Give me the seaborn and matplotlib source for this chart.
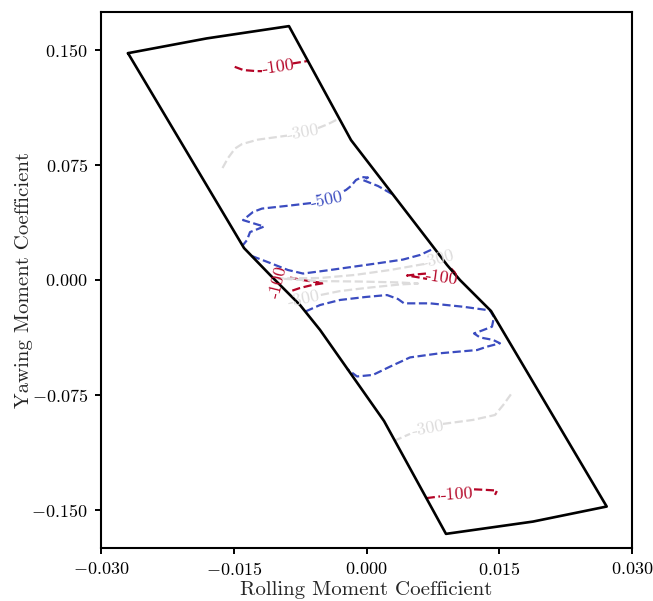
import numpy as np
import pandas as pd
import matplotlib
matplotlib.use("Agg")
import matplotlib.pyplot as plt
import seaborn as sns
from matplotlib.ticker import FuncFormatter

# ---------------- data ----------------
# flight envelope boundary (rolling, yawing moment coefficient)
boundary_x = [-0.02695, -0.01806, -0.00876, -0.00175, 0.00695, 0.00910, 0.01056, 0.01407,
              0.02714, 0.01881, 0.00898, 0.00198, -0.00525, -0.00751, -0.01090, -0.01384, -0.02695]
boundary_y = [0.1477, 0.1573, 0.1653, 0.0911, 0.0260, 0.0098, 0.0000, -0.0202,
              -0.1475, -0.1573, -0.1653, -0.0918, -0.0325, -0.0163, 0.0033, 0.0208, 0.1477]

contour_levels = [-500, -300, -100]

# contour paths: (level, x values, y values)
c100_top_a_x = [-0.01489, -0.01392, -0.01241, -0.01181]
c100_top_a_y = [0.1388, 0.1367, 0.1360, 0.1360]
c100_top_b_x = [-0.00834, -0.00653]
c100_top_b_y = [0.1410, 0.1427]

c300_top_a_x = [-0.01627, -0.01565, -0.01486, -0.01407, -0.01226, -0.00898]
c300_top_a_y = [0.0729, 0.0794, 0.0856, 0.0885, 0.0914, 0.0940]
c300_top_b_x = [-0.00548, -0.00435, -0.00311]
c300_top_b_y = [0.0989, 0.1015, 0.1051]

c500_up_a_x = [0.00288, 0.00130, -0.00040, 0.00017, -0.00051, -0.00119, -0.00175, -0.00232, -0.00277]
c500_up_a_y = [0.0560, 0.0612, 0.0651, 0.0667, 0.0670, 0.0651, 0.0612, 0.0586, 0.0573]
c500_up_b_x = [-0.00627, -0.00864, -0.01181, -0.01282, -0.01395, -0.01158, -0.01316, -0.01350, -0.01395]
c500_up_b_y = [0.0501, 0.0485, 0.0465, 0.0443, 0.0390, 0.0348, 0.0312, 0.0260, 0.0228]
c500_up_c_x = [-0.01295, -0.01090, -0.00887, -0.00717, -0.00412, -0.00130, 0.00153, 0.00412, 0.00605, 0.00751]
c500_up_c_y = [0.0156, 0.0111, 0.0065, 0.0042, 0.0065, 0.0088, 0.0111, 0.0133, 0.0163, 0.0202]

c100_midl_x = [-0.00864, -0.00751, -0.00616, -0.00480, -0.00616, -0.00751, -0.00853]
c100_midl_y = [0.0016, 0.0003, -0.0010, -0.0020, -0.0033, -0.0052, -0.0072]

c100_midr_a_x = [0.00672, 0.00559, 0.00458, 0.00559, 0.00684]
c100_midr_a_y = [0.0042, 0.0036, 0.0029, 0.0020, 0.0007]
c100_midr_b_x = [0.00955, 0.00994, 0.01023]
c100_midr_b_y = [0.0075, 0.0052, 0.0020]

c300_mid_x = [0.00650, 0.00266, -0.00130, -0.00525, -0.01000, -0.00525, -0.00073, 0.00379,
              0.00582, 0.00379, 0.00040, -0.00299, -0.00548]
c300_mid_y = [0.0104, 0.0065, 0.0033, 0.0013, 0.0010, -0.0007, -0.0010, -0.0016,
              -0.0023, -0.0029, -0.0049, -0.0072, -0.0101]

c500_low_x = [-0.00690, -0.00525, -0.00299, -0.00017, 0.00232, 0.00356, 0.00424, 0.00718, 0.01090,
              0.01395, 0.01440, 0.01418, 0.01305, 0.01215, 0.01282, 0.01429, 0.01508, 0.01362,
              0.01249, 0.00831, 0.00492, 0.00266, 0.00073, -0.00107, -0.00220]
c500_low_y = [-0.0205, -0.0163, -0.0130, -0.0111, -0.0098, -0.0124, -0.0152, -0.0152, -0.0174,
              -0.0198, -0.0241, -0.0304, -0.0329, -0.0348, -0.0374, -0.0390, -0.0412, -0.0434,
              -0.0456, -0.0477, -0.0504, -0.0564, -0.0618, -0.0628, -0.0579]

c300_low_a_x = [0.00310, 0.00492]
c300_low_a_y = [-0.1048, -0.1002]
c300_low_b_x = [0.00864, 0.01203, 0.01452, 0.01546, 0.01641]
c300_low_b_y = [-0.0937, -0.0911, -0.0879, -0.0813, -0.0737]

c100_low_a_x = [0.00680, 0.00831]
c100_low_a_y = [-0.1420, -0.1409]
c100_low_b_x = [0.01215, 0.01362, 0.01475, 0.01452]
c100_low_b_y = [-0.1363, -0.1367, -0.1371, -0.1399]

paths = [
    (-100, c100_top_a_x, c100_top_a_y), (-100, c100_top_b_x, c100_top_b_y),
    (-300, c300_top_a_x, c300_top_a_y), (-300, c300_top_b_x, c300_top_b_y),
    (-500, c500_up_a_x, c500_up_a_y), (-500, c500_up_b_x, c500_up_b_y),
    (-500, c500_up_c_x, c500_up_c_y),
    (-100, c100_midl_x, c100_midl_y),
    (-100, c100_midr_a_x, c100_midr_a_y), (-100, c100_midr_b_x, c100_midr_b_y),
    (-300, c300_mid_x, c300_mid_y),
    (-500, c500_low_x, c500_low_y),
    (-300, c300_low_a_x, c300_low_a_y), (-300, c300_low_b_x, c300_low_b_y),
    (-100, c100_low_a_x, c100_low_a_y), (-100, c100_low_b_x, c100_low_b_y),
]

# inline contour labels: level, x, y, rotation
label_level = [-100, -300, -500, -100, -300, -100, -300, -300, -100]
label_x = [-0.01000, -0.00718, -0.00446, -0.01000, 0.00808, 0.00853, -0.00706, 0.00695, 0.01023]
label_y = [0.1386, 0.0963, 0.0524, -0.0013, 0.0137, 0.0016, -0.0124, -0.0966, -0.1396]
label_rot = [8, 10, 12, 76, 15, -8, 12, 10, 3]

xticks = [-0.030, -0.015, 0.000, 0.015, 0.030]
yticks = [-0.150, -0.075, 0.000, 0.075, 0.150]

# ---------------- style ----------------
sns.set_style("ticks")
plt.rcParams.update({
    "font.family": ["cmr10", "DejaVu Serif"],
    "mathtext.fontset": "cm",
    "axes.unicode_minus": False,
    "axes.linewidth": 1.5,
    "xtick.major.width": 1.4,
    "ytick.major.width": 1.4,
    "xtick.major.size": 4.5,
    "ytick.major.size": 4.5,
    "xtick.direction": "out",
    "ytick.direction": "out",
    "axes.edgecolor": "black",
    "xtick.color": "black",
    "ytick.color": "black",
})

cmap = sns.color_palette("coolwarm", as_cmap=True)
level_color = {lv: cmap((lv - min(contour_levels)) / (max(contour_levels) - min(contour_levels)))
               for lv in contour_levels}

fig = plt.figure(figsize=(6.53, 6.01), dpi=100)
ax = fig.add_axes([101 / 653, 1 - 548 / 601, (632 - 101) / 653, (548 - 12) / 601])

# boundary
bdf = pd.DataFrame({"x": boundary_x, "y": boundary_y})
sns.lineplot(data=bdf, x="x", y="y", sort=False, estimator=None, color="black",
             lw=1.9, ax=ax, zorder=3)

for lv, xs, ys in paths:
    df = pd.DataFrame({"x": xs, "y": ys})
    sns.lineplot(data=df, x="x", y="y", sort=False, estimator=None,
                 color=level_color[lv], lw=1.6, linestyle="--", ax=ax, zorder=2)

for lv, lx, ly, rot in zip(label_level, label_x, label_y, label_rot):
    ax.text(lx, ly, f"-{abs(lv)}", color=level_color[lv], fontsize=12.8,
            rotation=rot, rotation_mode="anchor", ha="center", va="center", zorder=4)

ax.set_xlim(-0.030, 0.030)
ax.set_ylim(-0.1745, 0.1745)
ax.set_xticks(xticks)
ax.set_yticks(yticks)
fmt = FuncFormatter(lambda v, p: r"$%.3f$" % v if abs(v) > 1e-12 else r"$0.000$")
ax.xaxis.set_major_formatter(fmt)
ax.yaxis.set_major_formatter(fmt)
ax.tick_params(labelsize=13, pad=5)
ax.set_xlabel("Rolling Moment Coefficient", fontsize=15, labelpad=2)
ax.set_ylabel("Yawing Moment Coefficient", fontsize=15, labelpad=-1)

fig.savefig("out.png", dpi=100)
